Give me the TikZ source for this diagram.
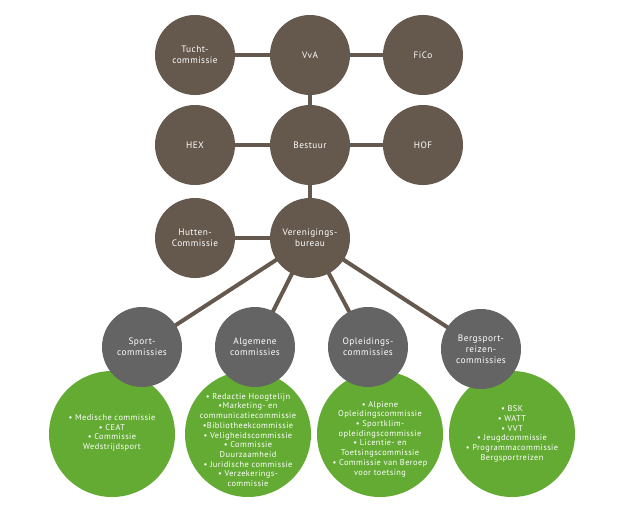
\documentclass[tikz,border=0pt]{standalone}
\usepackage{fontspec}
\setmainfont{PT Sans}[LetterSpace=5]
\definecolor{brn}{RGB}{101,88,77}
\definecolor{gry}{RGB}{100,100,100}
\definecolor{grn}{RGB}{99,171,51}
\begin{document}
\begin{tikzpicture}[x=1pt,y=-1pt,
  bcirc/.style={circle,fill=brn,minimum size=80pt,inner sep=0pt,text=white,align=center,font=\fontsize{9.3}{11}\selectfont},
  gcirc/.style={circle,fill=gry,minimum size=80pt,inner sep=0pt,text=white,align=center,font=\fontsize{9.3}{11}\selectfont},
  ecirc/.style={circle,fill=grn,minimum size=126pt,inner sep=0pt},
  etext/.style={text=white,align=center,font=\fontsize{8.4}{9.7}\selectfont,inner sep=0pt},
  conn/.style={draw=brn,line width=4pt}]
\useasboundingbox (0,0) rectangle (626,527);
% coordinates for circle centers
\coordinate (cTu) at (195,55);
\coordinate (cVv) at (310,55);
\coordinate (cFi) at (423,55);
\coordinate (cHe) at (195,145);
\coordinate (cBe) at (310,145);
\coordinate (cHo) at (423,145);
\coordinate (cHu) at (195,238);
\coordinate (cVe) at (310,238);
\coordinate (cSp) at (142,347);
\coordinate (cAl) at (255,347);
\coordinate (cOp) at (368,347);
\coordinate (cBg) at (481,349);
% connectors
\draw[conn] (cTu) -- (cFi);
\draw[conn] (cVv) -- (cVe);
\draw[conn] (cHe) -- (cHo);
\draw[conn] (cHu) -- (cVe);
\draw[conn] (cVe) -- (cSp);
\draw[conn] (cVe) -- (cAl);
\draw[conn] (cVe) -- (cOp);
\draw[conn] (cVe) -- (cBg);
% green circles
\node[ecirc] (gSp) at (112,434) {};
\node[ecirc] (gAl) at (248,434) {};
\node[ecirc] (gOp) at (380,434) {};
\node[ecirc] (gBg) at (512,434) {};
\node[etext] (tSp) at (112,433) {• Medische commissie\\• CEAT\\• Commissie\\Wedstrijdsport};
\node[etext] (tAl) at (248,440) {• Redactie Hoogtelijn\\•Marketing- en\\communicatiecommissie\\•Bibliotheekcommissie\\• Veligheidscommissie\\• Commissie\\Duurzaamheid\\• Juridische commissie\\• Verzekerings-\\commissie};
\node[etext] (tOp) at (380,439) {• Alpiene\\Opleidingscommissie\\• Sportklim-\\opleidingscommissie\\• Licentie- en\\Toetsingscommissie\\• Commissie van Beroep\\voor toetsing};
\node[etext] (tBg) at (512,434) {• BSK\\• WATT\\• VVT\\• Jeugdcommissie\\• Programmacommissie\\Bergsportreizen};
% brown circles
\node[bcirc] (Tu) at (cTu) {Tucht-\\commissie};
\node[bcirc] (Vv) at (cVv) {VvA};
\node[bcirc] (Fi) at (cFi) {FiCo};
\node[bcirc] (He) at (cHe) {HEX};
\node[bcirc] (Be) at (cBe) {Bestuur};
\node[bcirc] (Ho) at (cHo) {HOF};
\node[bcirc] (Hu) at (cHu) {Hutten-\\Commissie};
\node[bcirc] (Ve) at (cVe) {Verenigings-\\bureau};
% gray circles
\node[gcirc] (Sp) at (cSp) {Sport-\\commissies};
\node[gcirc] (Al) at (cAl) {Algemene\\commissies};
\node[gcirc] (Op) at (cOp) {Opleidings-\\commissies};
\node[gcirc] (Bg) at (cBg) {Bergsport-\\reizen-\\commissies};
\end{tikzpicture}
\end{document}
